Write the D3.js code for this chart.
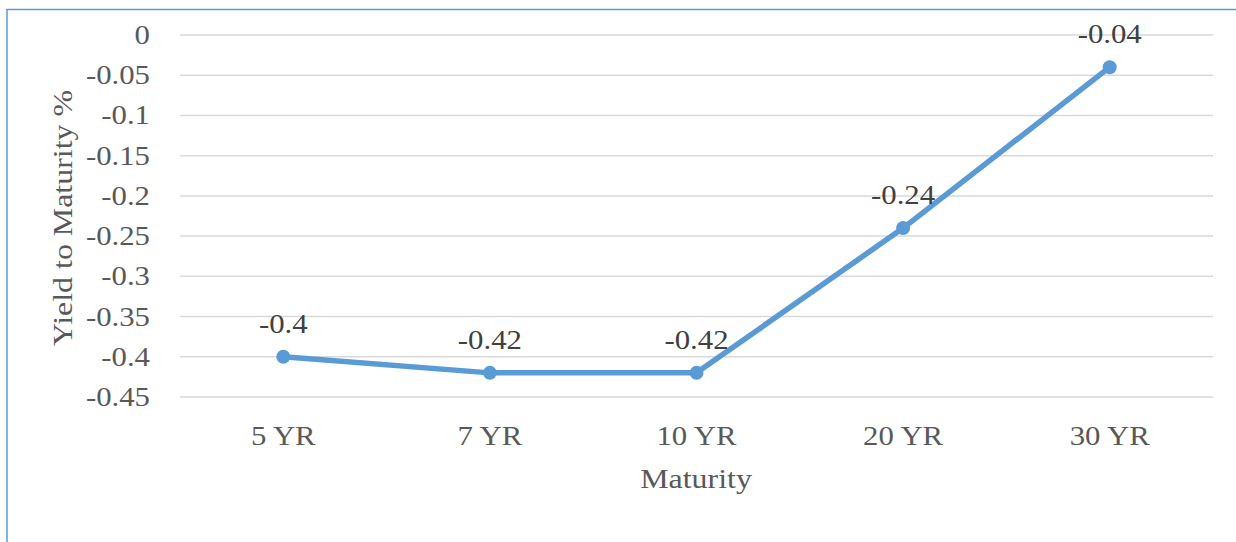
<!DOCTYPE html>
<html>
<meta charset="utf-8">
<head>
<script src="https://d3js.org/d3.v7.min.js"></script>
<style>
  body { margin: 0; background: #fff; }
</style>
</head>
<body>
<div id="chart"></div>
<script>
// chart data
var maturities = ["5 YR", "7 YR", "10 YR", "20 YR", "30 YR"];
var yields = [-0.4, -0.42, -0.42, -0.24, -0.04];
var yTicks = [0, -0.05, -0.1, -0.15, -0.2, -0.25, -0.3, -0.35, -0.4, -0.45];

var width = 1236, height = 542;
var margin = {top: 35, right: 23, bottom: 145, left: 180};
var stretch = 1.14; // the source text is a bit wider than normal Times
var serif = "'Liberation Serif', Tinos, 'Times New Roman', serif";

var svg = d3.select("#chart").append("svg")
    .attr("width", width)
    .attr("height", height)
    .attr("font-family", serif);

// outer chart border (only left and top edges show in the frame)
svg.append("rect")
    .attr("x", 7).attr("y", 9.5)
    .attr("width", 1260).attr("height", 560)
    .attr("fill", "none")
    .attr("stroke", "#5b9bd5")
    .attr("stroke-width", 1.5);

var x = d3.scaleBand()
    .domain(maturities)
    .range([margin.left, width - margin.right]);

var y = d3.scaleLinear()
    .domain([-0.45, 0])
    .range([397, margin.top]);

function cx(i) { return x(maturities[i]) + x.bandwidth() / 2; }

// places a text at (px,py) with the horizontal stretch applied
function place(px, py) {
  return "translate(" + px + "," + py + ") scale(" + stretch + ",1)";
}

// grid lines
svg.append("g")
  .selectAll("line")
  .data(yTicks)
  .enter().append("line")
    .attr("x1", margin.left)
    .attr("x2", width - margin.right)
    .attr("y1", function(d) { return y(d); })
    .attr("y2", function(d) { return y(d); })
    .attr("stroke", "#d9d9d9")
    .attr("stroke-width", 1.5);

// y tick labels
svg.append("g")
  .selectAll("text")
  .data(yTicks)
  .enter().append("text")
    .attr("transform", function(d) { return place(150, y(d) + 9); })
    .attr("text-anchor", "end")
    .attr("font-size", 27)
    .attr("fill", "#595959")
    .text(function(d) { return d === 0 ? "0" : String(d); });

// x tick labels
svg.append("g")
  .selectAll("text")
  .data(maturities)
  .enter().append("text")
    .attr("transform", function(d, i) { return place(cx(i), 445); })
    .attr("text-anchor", "middle")
    .attr("font-size", 27)
    .attr("fill", "#595959")
    .text(function(d) { return d; });

// axis titles
svg.append("text")
    .attr("transform", place(696, 488))
    .attr("text-anchor", "middle")
    .attr("font-size", 28)
    .attr("fill", "#595959")
    .text("Maturity");

svg.append("text")
    .attr("transform", "translate(72,218) rotate(-90) scale(" + stretch + ",1)")
    .attr("text-anchor", "middle")
    .attr("font-size", 28)
    .attr("fill", "#595959")
    .text("Yield to Maturity %");

// line
var line = d3.line()
    .x(function(d, i) { return cx(i); })
    .y(function(d) { return y(d); });

svg.append("path")
    .datum(yields)
    .attr("d", line)
    .attr("fill", "none")
    .attr("stroke", "#5b9bd5")
    .attr("stroke-width", 5.5)
    .attr("stroke-linejoin", "round")
    .attr("stroke-linecap", "round");

svg.append("g")
  .selectAll("circle")
  .data(yields)
  .enter().append("circle")
    .attr("cx", function(d, i) { return cx(i); })
    .attr("cy", function(d) { return y(d); })
    .attr("r", 7)
    .attr("fill", "#5b9bd5");

// data labels
svg.append("g")
  .selectAll("text")
  .data(yields)
  .enter().append("text")
    .attr("transform", function(d, i) { return place(cx(i), y(d) - 24); })
    .attr("text-anchor", "middle")
    .attr("font-size", 27)
    .attr("fill", "#404040")
    .text(function(d) { return String(d); });
</script>
</body>
</html>
